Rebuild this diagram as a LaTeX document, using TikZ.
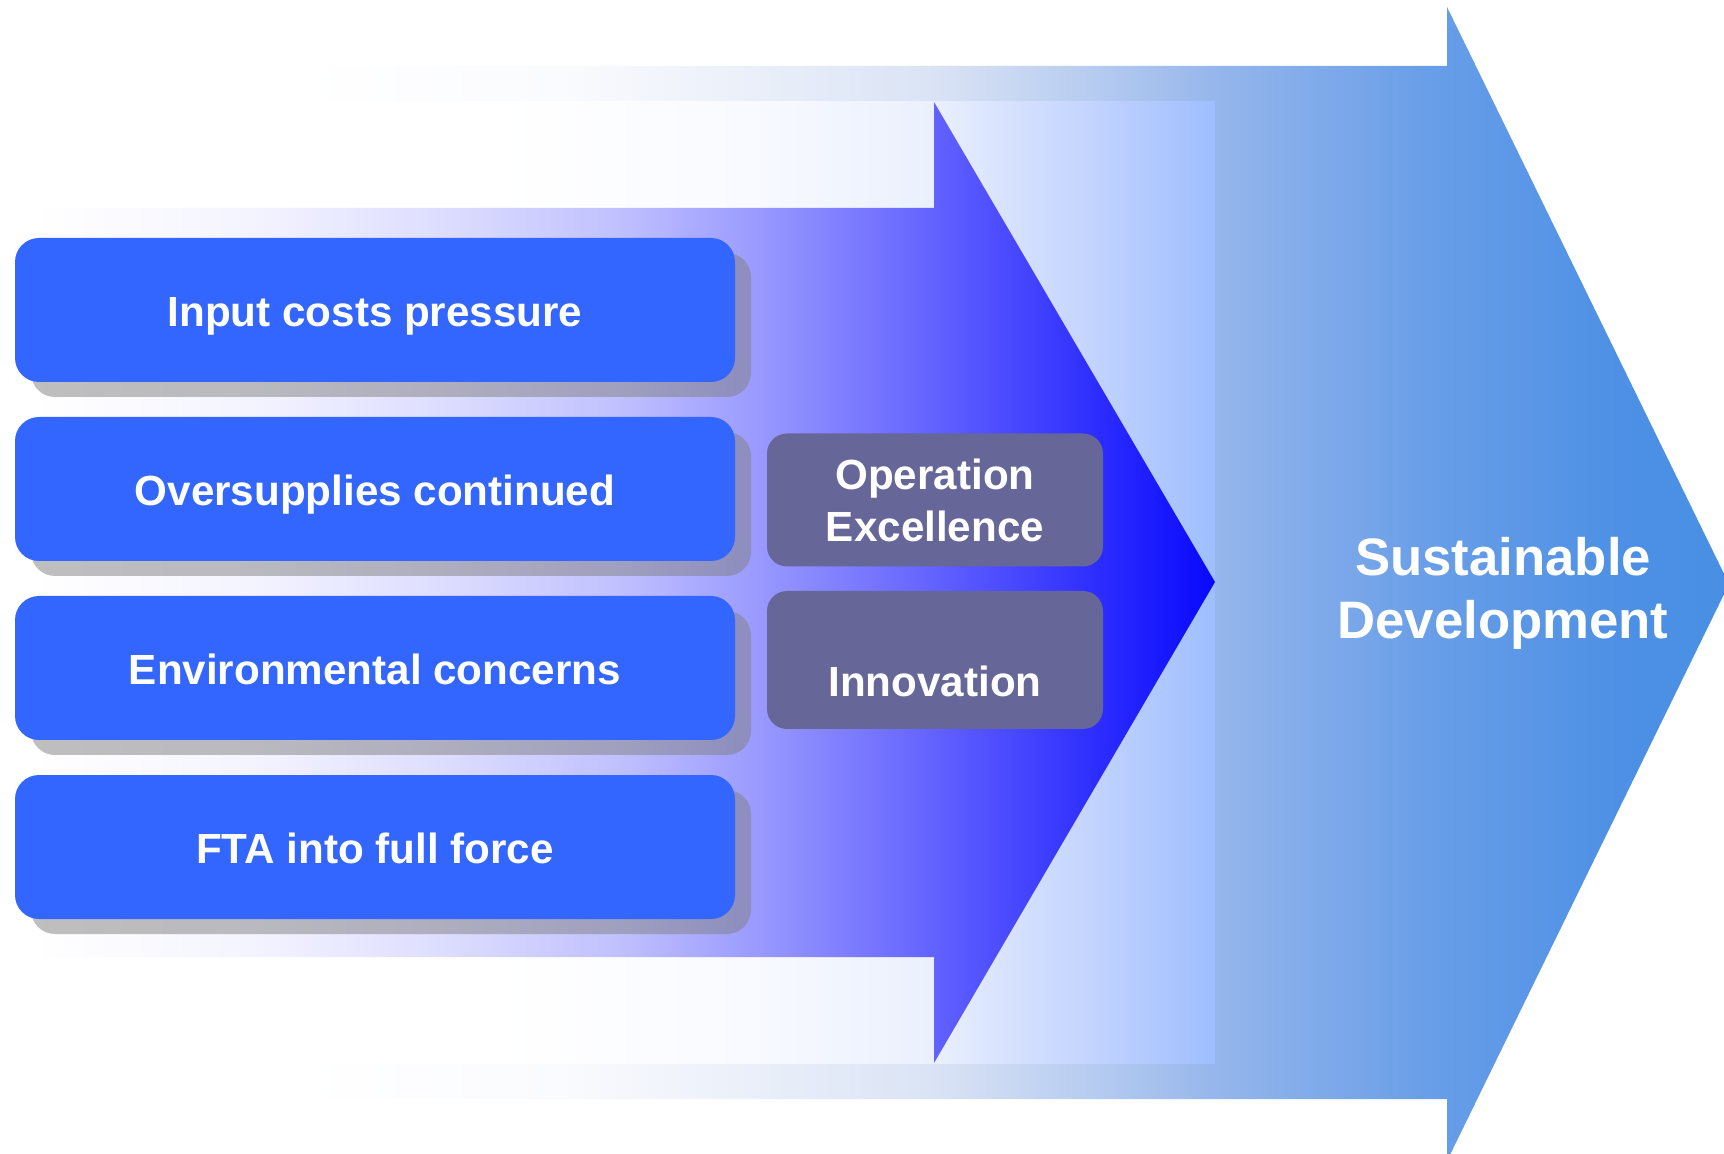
\documentclass[tikz,border=0pt]{standalone}
\usepackage{fontspec}
\setmainfont{Liberation Sans}
\usetikzlibrary{shadows}

\definecolor{factorblue}{HTML}{3366FF}
\definecolor{levergrey}{HTML}{666699}

% colours of the big arrow
\definecolor{oa1}{HTML}{FAFBFE}
\definecolor{oa2}{HTML}{EAEFF9}
\definecolor{oa3}{HTML}{DAE3F5}
\definecolor{oa4}{HTML}{B4CAF0}
\definecolor{oa5}{HTML}{95B6EC}
\definecolor{oa6}{HTML}{6A9FE8}
\definecolor{oa7}{HTML}{4D90E5}
\definecolor{oa8}{HTML}{4890E5}
% colours of the light band
\definecolor{lb1}{HTML}{F8FAFF}
\definecolor{lb2}{HTML}{EAF0FD}
\definecolor{lb3}{HTML}{D8E3FE}
\definecolor{lb4}{HTML}{C0D2FF}
\definecolor{lb5}{HTML}{9EBEFF}
% colours of the small arrow
\definecolor{sa1}{HTML}{F4F4FF}
\definecolor{sa2}{HTML}{DCDCFF}
\definecolor{sa3}{HTML}{C0C0FF}
\definecolor{sa4}{HTML}{9C9CFF}
\definecolor{sa5}{HTML}{6262FF}
\definecolor{sa6}{HTML}{2C2CFF}
\definecolor{sa7}{HTML}{0808FF}

% 25bp = left end of the shape, 75bp = right end
\pgfdeclarehorizontalshading{outershade}{100bp}{color(0bp)=(white); color(25bp)=(white);
    color(34.2bp)=(oa1); color(40.9bp)=(oa2); color(47.3bp)=(oa3); color(53.1bp)=(oa4);
    color(57.1bp)=(oa5); color(64.2bp)=(oa6); color(71.2bp)=(oa7); color(75bp)=(oa8); color(100bp)=(oa8)}
\pgfdeclarehorizontalshading{bandshade}{100bp}{color(0bp)=(white); color(45.6bp)=(white);
    color(55.9bp)=(lb1); color(63.4bp)=(lb2); color(66.2bp)=(lb3); color(70.3bp)=(lb4);
    color(75bp)=(lb5); color(100bp)=(lb5)}
\pgfdeclarehorizontalshading{innershade}{100bp}{color(0bp)=(white); color(25bp)=(white);
    color(34.2bp)=(sa1); color(42.6bp)=(sa2); color(49.8bp)=(sa3); color(55.3bp)=(sa4);
    color(63.1bp)=(sa5); color(70.1bp)=(sa6); color(75bp)=(sa7); color(100bp)=(sa7)}

\begin{document}
\begin{tikzpicture}[x=0.1mm, y=-0.1mm,
    factor/.style={fill=factorblue, rounded corners=2.4mm, minimum width=72mm, minimum height=14.4mm,
        inner sep=0pt, text=white, font=\bfseries\fontsize{12}{14}\selectfont,
        text height=0.93em, text depth=0pt,
        drop shadow={shadow xshift=1.6mm, shadow yshift=-1.5mm}},
    lever/.style={fill=levergrey, rounded corners=2mm, minimum width=33.6mm, inner sep=0pt,
        text=white, font=\bfseries\fontsize{12}{14.8}\selectfont, align=center}]
    \useasboundingbox (0,0) rectangle (1724,1154);

    % Big arrow
    \shade[shading=outershade] (297,66) -- (1447,66) -- (1447,7) -- (1729,584)
        -- (1447,1161) -- (1447,1099) -- (297,1099) -- cycle;

    % Light band behind the small arrow
    \shade[shading=bandshade] (0,102) rectangle (1215,1063);

    % Small arrow
    \shade[shading=innershade] (33,208) -- (934,208) -- (934,102) -- (1215,582)
        -- (934,1063) -- (934,957) -- (33,957) -- cycle;

    % Factors on the left
    \foreach \y/\name/\txt in {310/ipc/Input costs pressure, 489/osc/Oversupplies continued,
        668/env/Environmental concerns, 847/fta/FTA into full force} {
        \node[factor] (\name) at (375,\y) {\txt};
    }

    % Levers
    \node[lever, minimum height=13.3mm] (opex) at (935,500) {Operation\\Excellence};
    \node[lever, minimum height=13.8mm] (innov) at (935,660) {};
    \node[lever, fill=none] (innovtext) at (935,681) {Innovation};

    % Goal
    \node[text=white, font=\bfseries\fontsize{15}{17.9}\selectfont, align=center] (goal)
        at (1503,593) {Sustainable\\Development};
\end{tikzpicture}
\end{document}
